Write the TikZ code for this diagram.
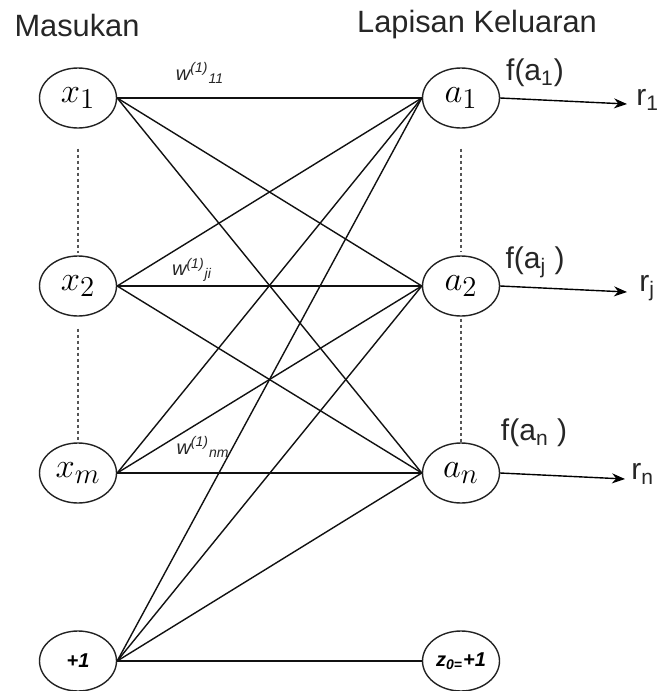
\documentclass[tikz,border=0pt]{standalone}
\usepackage{fontspec}
\setmainfont{Liberation Sans}
\usetikzlibrary{shapes.geometric, arrows.meta}

\begin{document}
\begin{tikzpicture}[x=0.5pt, y=-0.5pt,
    neuron/.style={ellipse, draw=borderColour, line width=0.7pt, minimum width=38.5pt, minimum height=30pt, inner sep=0pt, font=\fontsize{19}{21}\selectfont},
    biasnode/.style={neuron, font=\fontsize{10}{12}\selectfont\bfseries\itshape},
    weight/.style={line width=0.7pt, draw=lineColour},
    weightlabel/.style={inner sep=0pt, font=\fontsize{10}{11}\selectfont\itshape, text=textColour},
    title/.style={inner sep=0pt, font=\fontsize{15.4}{18}\selectfont, text=textColour},
    outlabel/.style={inner sep=0pt, font=\fontsize{15}{18}\selectfont, text=textColour},
    gap/.style={draw=gapColour, line width=0.8pt, dash pattern=on 1.5pt off 1.5pt},
    outarrow/.style={line width=0.7pt, -{Stealth[length=6.5pt, width=5pt]}}]
    \definecolor{borderColour}{HTML}{222222}
    \definecolor{lineColour}{HTML}{111111}
    \definecolor{textColour}{HTML}{262626}
    \definecolor{gapColour}{HTML}{555555}

    \useasboundingbox (0,0) rectangle (668,691);

    % Titles
    \node[title] (inTitle) at (77,25) {Masukan};
    \node[title] (outTitle) at (477,25) {Lapisan Keluaran};

    % Input layer
    \node[neuron] (x1) at (78,98) {$x_1$};
    \node[neuron] (x2) at (78,286) {$x_2$};
    \node[neuron] (xm) at (78,473) {$x_m$};
    \node[biasnode] (bias) at (78,661) {+1};

    % Output layer
    \node[neuron] (a1) at (461,98) {$a_1$};
    \node[neuron] (a2) at (461,286) {$a_2$};
    \node[neuron] (an) at (461,473) {$a_n$};
    \node[biasnode] (z0) at (461,661) {z\textsubscript{0=}+1};

    % Dotted gaps between neurons
    \draw[gap, shorten <=10pt, shorten >=1pt] (x1) -- (x2);
    \draw[gap, shorten <=6pt, shorten >=0pt] (x2) -- (xm);
    \draw[gap, shorten <=10pt, shorten >=2pt] (a1) -- (a2);
    \draw[gap, shorten <=1pt, shorten >=0pt] (a2) -- (an);

    % Weights between the layers
    \foreach \src in {x1, x2, xm, bias}
        \foreach \dst in {a1, a2, an}
            \draw[weight] (\src.east) -- (\dst.west);
    \draw[weight] (bias.east) -- (z0.west);

    % Weight labels
    \node[weightlabel] (w11) at (200,73) {w\textsuperscript{(1)}\textsubscript{11}};
    \node[weightlabel] (wji) at (192,270) {w\textsuperscript{(1)}\textsubscript{ji}};
    \node[weightlabel] (wnm) at (203,447) {w\textsuperscript{(1)}\textsubscript{nm}};

    % Outputs
    \coordinate (r1end) at (627,104);
    \coordinate (rjend) at (627,292);
    \coordinate (rnend) at (625,479);
    \draw[outarrow] (a1.east) -- (r1end);
    \draw[outarrow] (a2.east) -- (rjend);
    \draw[outarrow] (an.east) -- (rnend);

    \node[outlabel, anchor=west] (r1) at (636,100) {r\textsubscript{1}};
    \node[outlabel, anchor=west] (rj) at (639,288) {r\textsubscript{j}};
    \node[outlabel, anchor=west] (rn) at (631,474) {r\textsubscript{n}};

    \node[outlabel] (fa1) at (535,73) {f(a\textsubscript{1})};
    \node[outlabel] (faj) at (535,262) {f(a\textsubscript{j} )};
    \node[outlabel] (fan) at (534,433) {f(a\textsubscript{n} )};

\end{tikzpicture}
\end{document}
